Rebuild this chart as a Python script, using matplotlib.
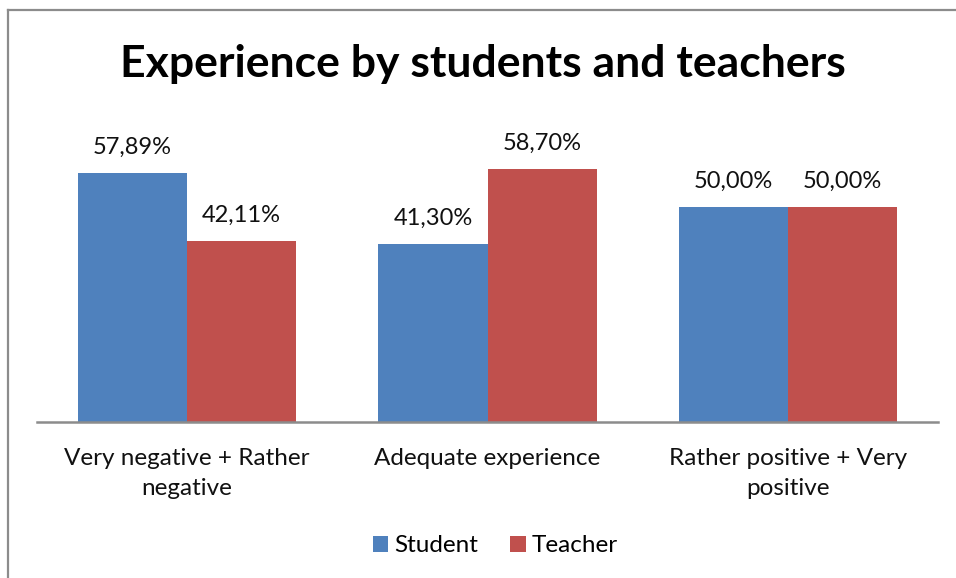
import matplotlib
matplotlib.use("Agg")
import matplotlib.pyplot as plt
from matplotlib.lines import Line2D
from matplotlib.patches import Patch

categories = ["Very negative + Rather\nnegative", "Adequate experience", "Rather positive + Very\npositive"]
student = [57.89, 41.30, 50.00]
teacher = [42.11, 58.70, 50.00]
series_names = ["Student", "Teacher"]
colors = ["#4F81BD", "#C0504D"]

plt.rcParams['font.family'] = ['Lato', 'DejaVu Sans']

W, H = 956, 578
fig = plt.figure(figsize=(W / 100, H / 100), dpi=100)

# chart frame (only top and left visible)
fig.add_artist(Line2D([7.5 / W, 7.5 / W], [0, 1 - 10 / H], transform=fig.transFigure, color="#8C8C8C", lw=1.6))
fig.add_artist(Line2D([7.5 / W, 1], [1 - 10 / H, 1 - 10 / H], transform=fig.transFigure, color="#8C8C8C", lw=1.6))

ax_left, ax_right = 37, 938
ax_bottom, ax_top = 422, 110
ax = fig.add_axes([ax_left / W, (H - ax_bottom) / H, (ax_right - ax_left) / W, (ax_bottom - ax_top) / H])

x = list(range(len(categories)))
bw = 0.363
b1 = ax.bar([i - bw / 2 for i in x], student, width=bw, color=colors[0], label=series_names[0])
b2 = ax.bar([i + bw / 2 for i in x], teacher, width=bw, color=colors[1], label=series_names[1])

for bars, vals in ((b1, student), (b2, teacher)):
    for rect, v in zip(bars, vals):
        ax.annotate(f"{v:.2f}%".replace(".", ","), (rect.get_x() + rect.get_width() / 2, v),
                    xytext=(0, 11), textcoords="offset points", ha="center", va="bottom",
                    fontsize=17, color="#111111")

ax.set_xlim(-0.5, len(categories) - 0.5)
ax.set_ylim(0, 72.5)
ax.set_yticks([])
ax.set_xticks(x)
ax.set_xticklabels(categories, fontsize=17.5, color="#111111", linespacing=1.5)
ax.tick_params(axis="x", length=0, pad=19)
for s in ("top", "right", "left"):
    ax.spines[s].set_visible(False)
ax.spines["bottom"].set_color("#8C8C8C")
ax.spines["bottom"].set_linewidth(1.8)

fig.text(0.5 + 5 / W, 1 - 64 / H, "Experience by students and teachers", ha="center", va="center",
         fontsize=32, fontweight="bold", color="black")

handles = [Patch(facecolor=c, label=n) for c, n in zip(colors, series_names)]
fig.legend(handles=handles, loc="center", bbox_to_anchor=(0.518, 1 - 546 / H), ncol=2, frameon=False,
           fontsize=17.5, handlelength=0.65, handleheight=0.65, handletextpad=0.25, columnspacing=1.3)

fig.savefig("out.png", dpi=100)
